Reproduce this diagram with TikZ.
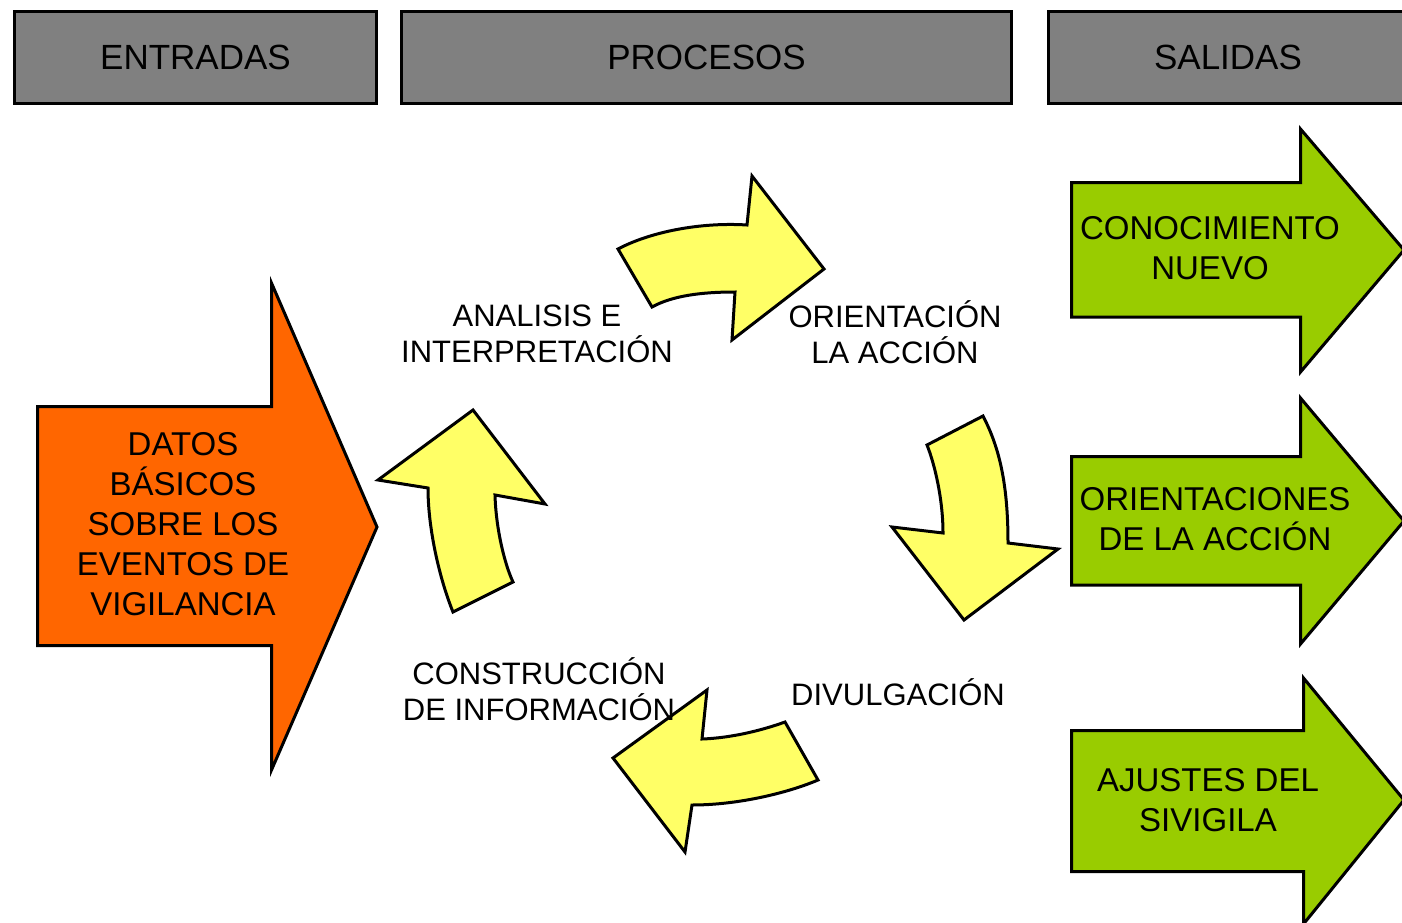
\documentclass[tikz,border=0pt]{standalone}
\usepackage{fontspec}
\setmainfont{Liberation Sans}
\definecolor{hdrgray}{HTML}{808080}
\definecolor{orangefill}{HTML}{FF6600}
\definecolor{greenfill}{HTML}{99CC00}
\definecolor{yellowfill}{HTML}{FFFF66}
\tikzset{
  hdrbox/.style={draw=black, line width=3pt, fill=hdrgray, inner sep=0pt,
    font=\fontsize{35}{40}\selectfont},
  shapeline/.style={draw=black, line width=3pt, line join=miter, miter limit=10},
  cyclearrow/.style={shapeline, fill=yellowfill},
  outarrow/.style={shapeline, fill=greenfill},
  inarrow/.style={shapeline, fill=orangefill},
  lbl/.style={font=\fontsize{31}{36}\selectfont, align=center, inner sep=0pt},
  boxtxt/.style={font=\fontsize{33}{40}\selectfont, align=center, inner sep=0pt},
}
\begin{document}
\begin{tikzpicture}[x=1pt,y=-1pt]
\useasboundingbox (0,0) rectangle (1402,923);
\fill[white] (0,0) rectangle (1402,923);

% headers
\node[hdrbox, minimum width=362pt, minimum height=92pt] (entradas) at (195.5,57.5) {ENTRADAS};
\node[hdrbox, minimum width=610pt, minimum height=92pt] (procesos) at (706.5,57.5) {PROCESOS};
\node[hdrbox, minimum width=359pt, minimum height=92pt] (salidas) at (1228,57.5) {SALIDAS};

% input arrow
\draw[inarrow] (37.5,406.5) -- (271.5,406.5) -- (271.5,283) -- (377,527) -- (271.5,770) -- (271.5,645.5) -- (37.5,645.5) -- cycle;
\node[boxtxt] (datos) at (183,524) {DATOS\\BÁSICOS\\SOBRE LOS\\EVENTOS DE\\VIGILANCIA};

% output arrows
\draw[outarrow] (1071.5,182.5) -- (1300.5,182.5) -- (1300.5,129) -- (1404,250) -- (1300.5,372) -- (1300.5,317) -- (1071.5,317) -- cycle;
\node[boxtxt] (conoc) at (1210,248) {CONOCIMIENTO\\NUEVO};

\draw[outarrow] (1071.5,456.5) -- (1300.5,456.5) -- (1300.5,398) -- (1404,521) -- (1300.5,644) -- (1300.5,585) -- (1071.5,585) -- cycle;
\node[boxtxt] (orient) at (1215,519) {ORIENTACIONES\\DE LA ACCIÓN};

\draw[outarrow] (1071.5,730.5) -- (1303.5,730.5) -- (1303.5,678) -- (1404,800) -- (1303.5,924) -- (1303.5,871.5) -- (1071.5,871.5) -- cycle;
\node[boxtxt] (ajustes) at (1208,800) {AJUSTES DEL\\SIVIGILA};

% cycle arrows
\draw[cyclearrow] (618,249) .. controls (650,232) and (700,222) .. (747,225)
  -- (752,176) -- (824,269) -- (732,340) -- (735,292)
  .. controls (700,292) and (672,296) .. (652,307) -- cycle;

\draw[cyclearrow] (927,445) -- (983,416) .. controls (998,445) and (1008,480) .. (1008,543)
  -- (1058,549) -- (964,620) -- (892,527) -- (943,533)
  .. controls (943,500) and (935,465) .. cycle;

\draw[cyclearrow] (785,722) -- (818,780) .. controls (790,792) and (740,805) .. (692,805)
  -- (685,852) -- (613,758) -- (707,690) -- (702,739)
  .. controls (730,738) and (760,731) .. cycle;

\draw[cyclearrow] (473,410) -- (545,504) -- (495,495) .. controls (496,530) and (505,565) .. (513,582)
  -- (453,612) .. controls (440,580) and (428,530) .. (428,488) -- (378,480) -- cycle;

% labels
\node[lbl] (analisis) at (537,334) {ANALISIS E\\INTERPRETACIÓN};
\node[lbl] (orientacion) at (895,332) {ORIENTACIÓN\\LA ACCIÓN};
\node[lbl] (construccion) at (539,689) {CONSTRUCCIÓN\\DE INFORMACIÓN};
\node[lbl] (divulgacion) at (898,692) {DIVULGACIÓN};
\end{tikzpicture}
\end{document}
